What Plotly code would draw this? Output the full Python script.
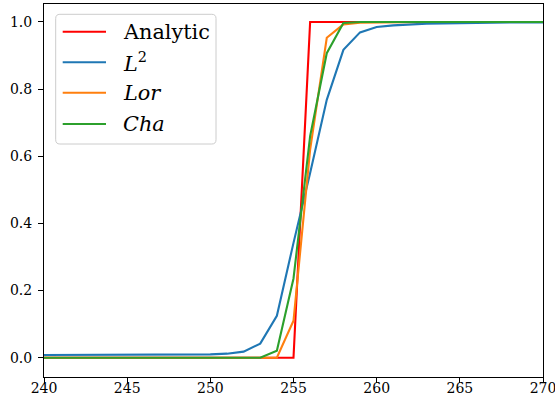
import plotly.graph_objects as go

# Grid positions along the profile
x = list(range(240, 271))

# Exact step solution
analytic = [0.0] * 16 + [1.0] * 15

# Numerical solutions for three different penalty functions
l2 = [0.008, 0.008, 0.008, 0.008, 0.008, 0.008, 0.008, 0.008, 0.008, 0.009,
      0.010, 0.012, 0.018, 0.042, 0.125, 0.342, 0.550, 0.768, 0.917, 0.969,
      0.985, 0.990, 0.993, 0.995, 0.996, 0.997, 0.997, 0.998, 0.998, 0.999,
      0.999]
lor = [0.0] * 15 + [0.110, 0.620, 0.953, 0.993, 0.998, 0.999] + [1.0] * 10
cha = [0.0] * 14 + [0.021, 0.236, 0.660, 0.907, 0.997] + [1.0] * 12

x_ticks = [240, 245, 250, 255, 260, 265, 270]
y_ticks = [0.0, 0.2, 0.4, 0.6, 0.8, 1.0]

series_names = ["Analytic", "<i>L</i><sup>2</sup>", "<i>Lor</i>", "<i>Cha</i>"]
series_data = [analytic, l2, lor, cha]
series_colors = ["#ff0000", "#1f77b4", "#ff7f0e", "#2ca02c"]

W, H = 555, 403
M_L, M_R, M_T, M_B = 44, 12, 4, 26
PW, PH = W - M_L - M_R, H - M_T - M_B
FONT = "DejaVu Serif"


def px(xp):
    return (xp - M_L) / PW


def py(yp):
    return (H - M_B - yp) / PH


fig = go.Figure()
for name, ys, col in zip(series_names, series_data, series_colors):
    fig.add_trace(go.Scatter(x=x, y=ys, mode="lines", name=name,
                             line=dict(color=col, width=2.1),
                             showlegend=False))

# Legend frame with rounded corners
bx0, bx1, by0, by1, r = 55.7, 216.0, 14.3, 144.0, 4.2
rx, ry = r / PW, r / PH
X0, X1, Y0, Y1 = px(bx0), px(bx1), py(by1), py(by0)
frame = (f"M {X0 + rx},{Y1} L {X1 - rx},{Y1} Q {X1},{Y1} {X1},{Y1 - ry} "
         f"L {X1},{Y0 + ry} Q {X1},{Y0} {X1 - rx},{Y0} "
         f"L {X0 + rx},{Y0} Q {X0},{Y0} {X0},{Y0 + ry} "
         f"L {X0},{Y1 - ry} Q {X0},{Y1} {X0 + rx},{Y1} Z")
shapes = [dict(type="path", path=frame, xref="paper", yref="paper",
               fillcolor="rgba(255,255,255,0.8)",
               line=dict(color="#cccccc", width=1), layer="above")]
annotations = []
row_y = [31.7, 62.3, 92.7, 124.0]
for name, col, ry_ in zip(series_names, series_colors, row_y):
    shapes.append(dict(type="line", xref="paper", yref="paper",
                       x0=px(62.7), x1=px(106.0), y0=py(ry_), y1=py(ry_),
                       line=dict(color=col, width=2.1), layer="above"))
    annotations.append(dict(text=name, xref="paper", yref="paper",
                            x=px(120.5), y=py(ry_), xanchor="left",
                            yanchor="middle", showarrow=False,
                            font=dict(family=FONT, size=20.8, color="black")))

axis_common = dict(showgrid=False, zeroline=False, showline=True,
                   linecolor="black", linewidth=1, mirror=True,
                   ticks="outside", ticklen=5, tickwidth=1, tickcolor="black",
                   automargin=False, ticklabeloverflow="allow",
                   tickfont=dict(family=FONT, size=14, color="black"))

fig.update_layout(
    width=W, height=H,
    margin=dict(l=M_L, r=M_R, t=M_T, b=M_B),
    paper_bgcolor="white", plot_bgcolor="white",
    shapes=shapes, annotations=annotations,
    xaxis=dict(range=[240, 270], tickvals=x_ticks,
               ticktext=[str(v) for v in x_ticks], ticklabelstandoff=-7,
               **axis_common),
    yaxis=dict(range=[-0.0575, 1.0536], tickvals=y_ticks,
               ticktext=[f"{v:.1f}" for v in y_ticks], ticklabelstandoff=3,
               **axis_common),
)

fig.write_html("out.html")
